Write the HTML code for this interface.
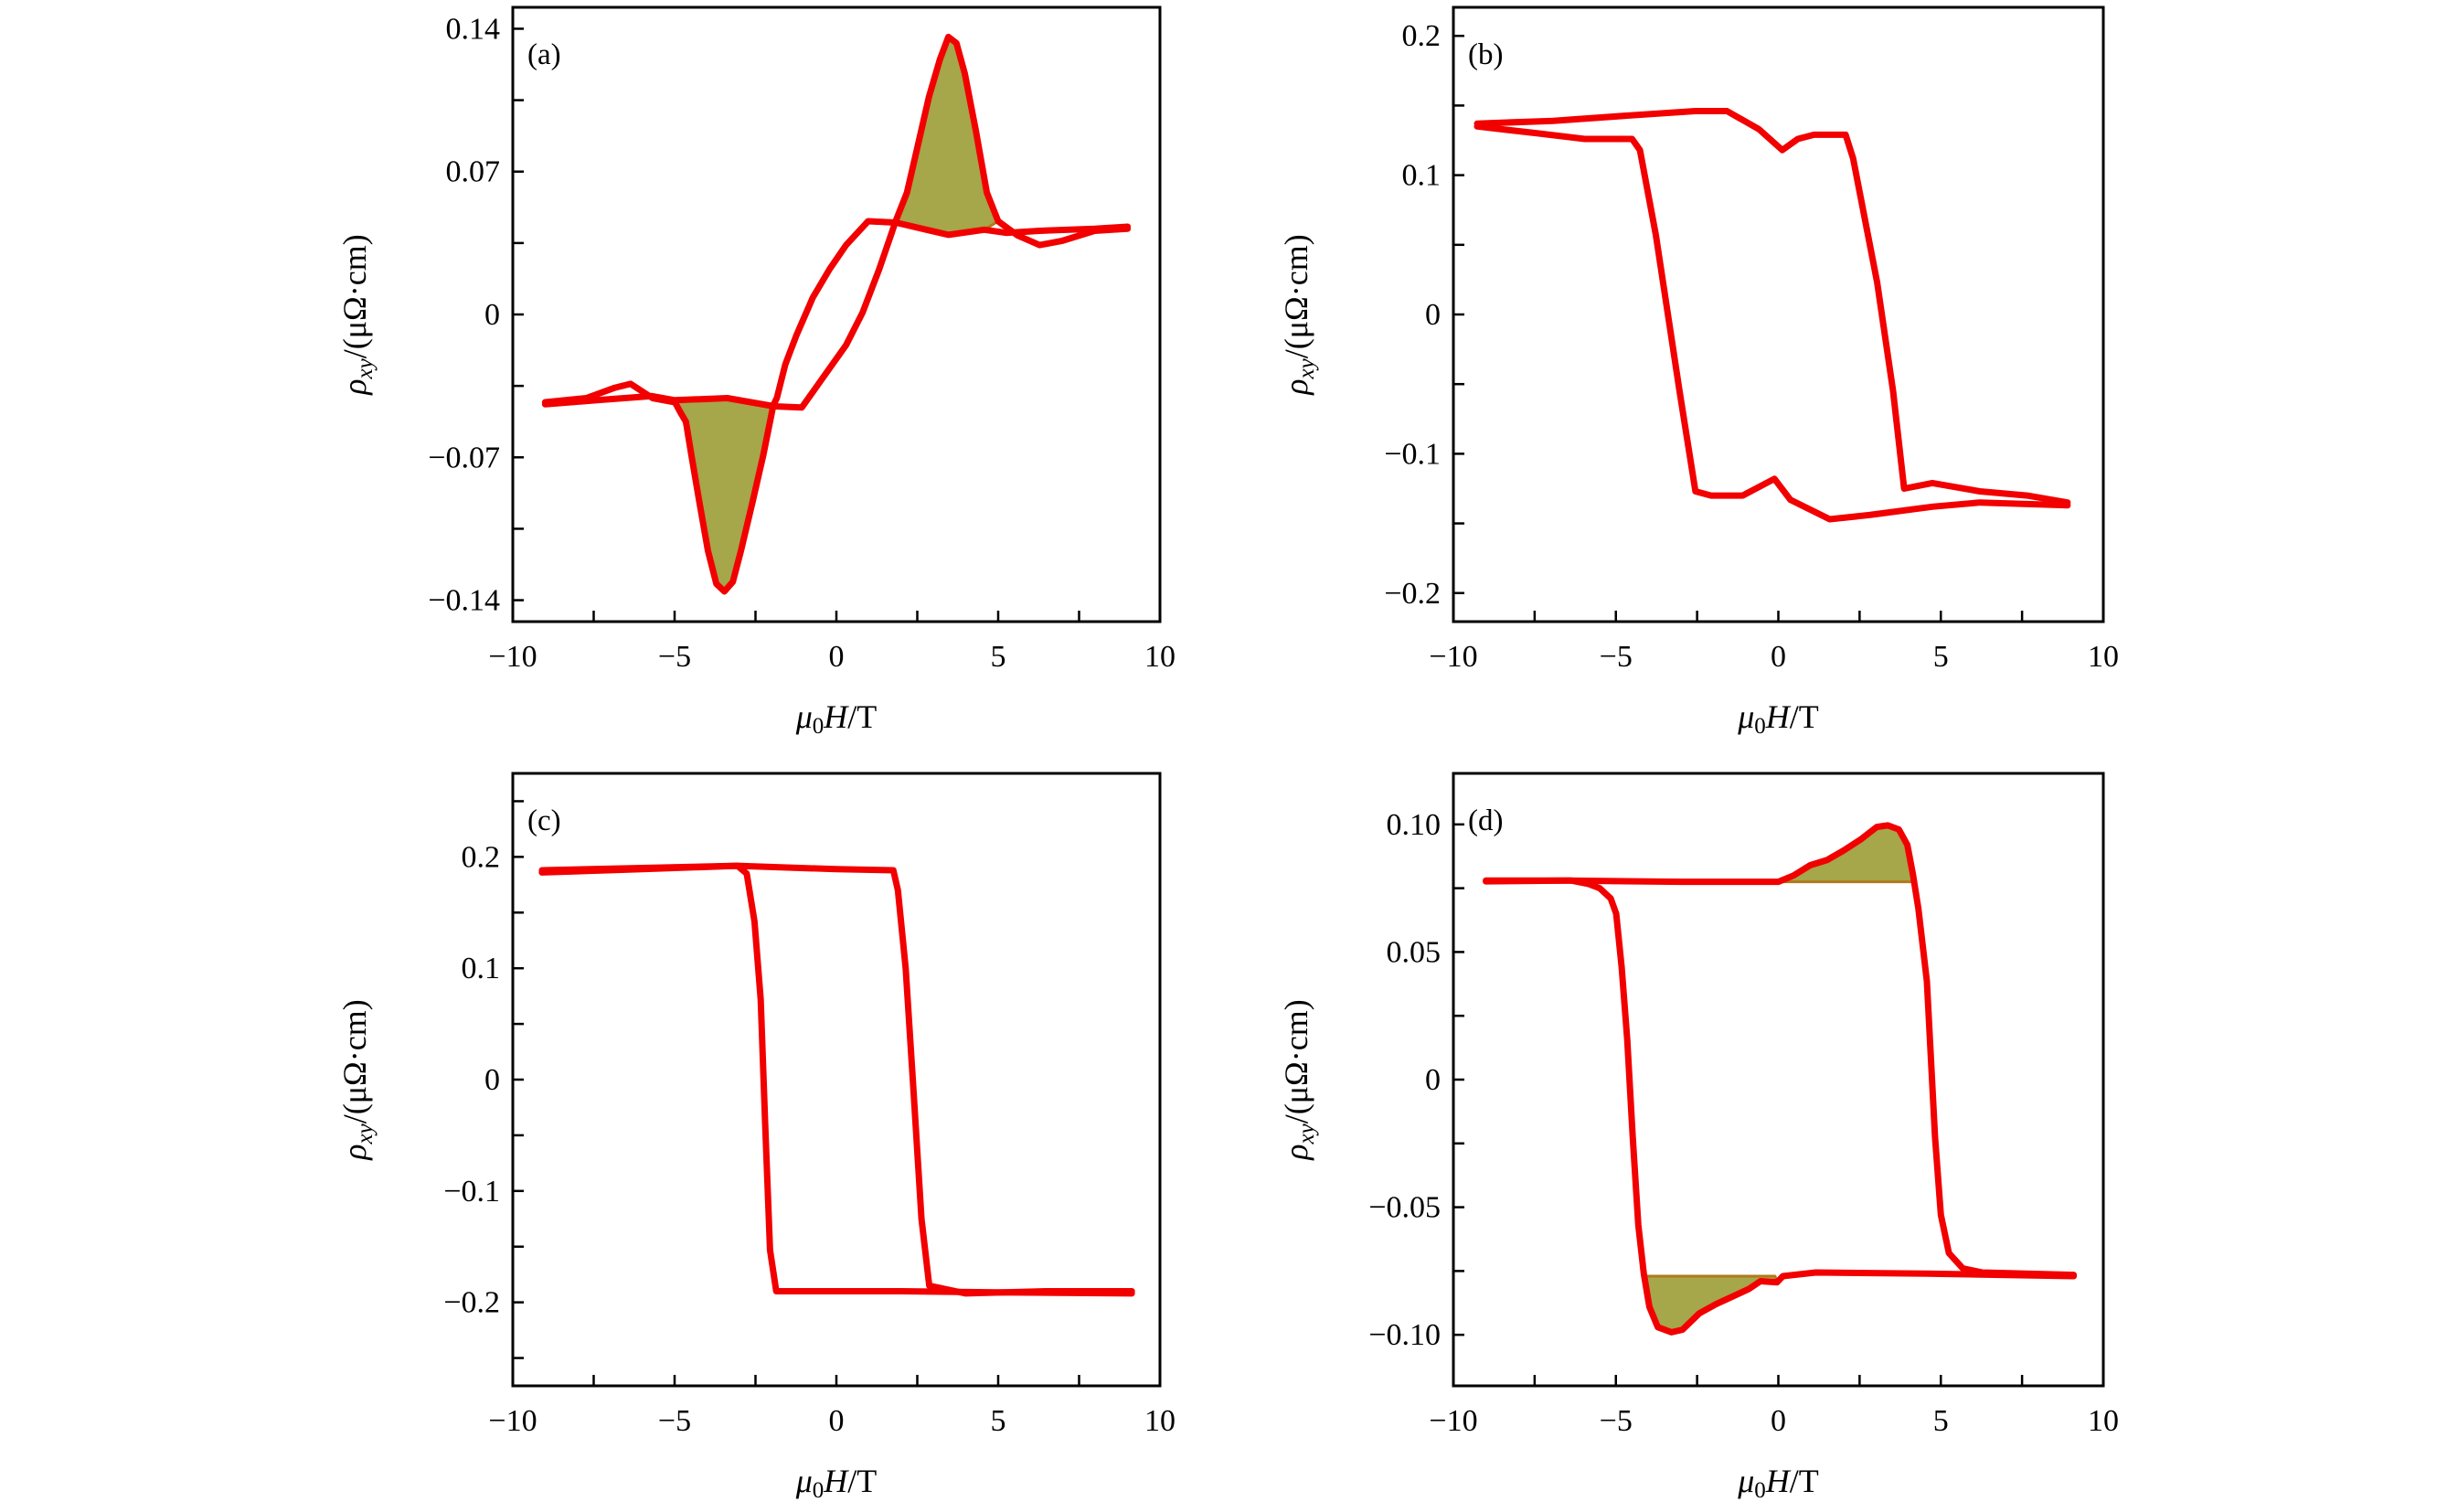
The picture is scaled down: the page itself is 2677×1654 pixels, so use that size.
<!DOCTYPE html>
<html><head><meta charset="utf-8"><style>
html,body{margin:0;padding:0;background:#fff;}
svg{display:block;font-family:"Liberation Serif",serif;}
</style></head><body>
<svg id="chart" width="2677" height="1654" viewBox="0 0 2677 1654" xmlns="http://www.w3.org/2000/svg"></svg>
<script>
// ---- Panel (a) data ----
const aBranchDown = [[9.0,0.043],[7.98,0.042],[6.28,0.041],[5.25,0.040],[4.57,0.0415],[3.46,0.039],[1.84,0.045],[0.98,0.0457],[0.30,0.034],[-0.21,0.0222],[-0.73,0.0083],[-1.24,-0.0104],[-1.58,-0.0245],[-1.84,-0.0409],[-1.95,-0.0445],[-2.26,-0.069],[-2.60,-0.0924],[-2.95,-0.1158],[-3.20,-0.131],[-3.46,-0.1357],[-3.71,-0.132],[-3.97,-0.1158],[-4.23,-0.0924],[-4.48,-0.069],[-4.65,-0.0526],[-4.82,-0.048],[-4.99,-0.043],[-5.68,-0.041],[-6.36,-0.034],[-6.87,-0.036],[-7.73,-0.041],[-9.0,-0.043]];
const aBranchUp = [[-9.0,-0.044],[-7.4,-0.042],[-5.7,-0.040],[-5.0,-0.042],[-3.37,-0.041],[-1.92,-0.045],[-1.07,-0.0456],[-0.55,-0.034],[0.30,-0.015],[0.81,0.001],[1.32,0.022],[1.84,0.046],[2.18,0.0597],[2.52,0.083],[2.86,0.1065],[3.20,0.125],[3.46,0.136],[3.71,0.133],[3.97,0.118],[4.31,0.090],[4.65,0.0597],[5.0,0.0457],[5.6,0.0387],[6.28,0.034],[6.96,0.036],[7.98,0.041],[9.0,0.042]];
const aFillPos = [[1.84,0.046],[2.18,0.0597],[2.52,0.083],[2.86,0.1065],[3.20,0.125],[3.46,0.136],[3.71,0.133],[3.97,0.118],[4.31,0.090],[4.65,0.0597],[5.0,0.0457],[4.57,0.0415],[3.46,0.039]];
const aFillNeg = [[-1.95,-0.0445],[-2.26,-0.069],[-2.60,-0.0924],[-2.95,-0.1158],[-3.20,-0.131],[-3.46,-0.1357],[-3.71,-0.132],[-3.97,-0.1158],[-4.23,-0.0924],[-4.48,-0.069],[-4.65,-0.0526],[-4.82,-0.048],[-4.99,-0.043],[-3.37,-0.041]];
const aYTicks = [0.14,0.07,0,-0.07,-0.14];
const aYLabels = ["0.14","0.07","0","\u22120.07","\u22120.14"];
const aYMinor = [0.105,0.035,-0.035,-0.105];

// ---- Panel (b) data ----
const bBranchDown = [[-9.27,0.137],[-6.93,0.139],[-4.5,0.143],[-2.55,0.146],[-1.58,0.146],[-0.6,0.133],[0.12,0.118],[0.6,0.126],[1.1,0.129],[2.07,0.129],[2.3,0.112],[3.04,0.023],[3.53,-0.055],[3.87,-0.125],[4.74,-0.121],[6.2,-0.127],[7.66,-0.13],[8.9,-0.135]];
const bBranchUp = [[8.9,-0.137],[6.2,-0.135],[4.74,-0.138],[2.8,-0.144],[1.58,-0.147],[0.37,-0.133],[-0.12,-0.118],[-1.1,-0.13],[-2.07,-0.13],[-2.55,-0.127],[-3.04,-0.055],[-3.77,0.057],[-4.26,0.118],[-4.5,0.126],[-5.96,0.126],[-7.4,0.130],[-9.27,0.135]];
const bYTicks = [0.2,0.1,0,-0.1,-0.2];
const bYLabels = ["0.2","0.1","0","\u22120.1","\u22120.2"];
const bYMinor = [0.15,0.05,-0.05,-0.15];

// ---- Panel (c) data ----
const cBranchDown = [[-9.1,0.188],[-6,0.190],[-3.06,0.192],[0,0.189],[1.76,0.188],[1.9,0.17],[2.14,0.1],[2.39,-0.013],[2.63,-0.125],[2.87,-0.185],[4,-0.192],[6.5,-0.190],[9.13,-0.19]];
const cBranchUp = [[9.13,-0.192],[5,-0.191],[2,-0.19],[-1.86,-0.19],[-2.05,-0.153],[-2.2,-0.04],[-2.34,0.072],[-2.53,0.142],[-2.77,0.185],[-3.06,0.192],[-6,0.189],[-9.1,0.186]];
const cYTicks = [0.2,0.1,0,-0.1,-0.2];
const cYLabels = ["0.2","0.1","0","\u22120.1","\u22120.2"];
const cYMinor = [0.25,0.15,0.05,-0.05,-0.15,-0.25];

// ---- Panel (d) data ----
const dBranchDown = [[-9.0,0.0777],[-6.5,0.078],[-3,0.0775],[0,0.0775],[0.47,0.080],[0.98,0.084],[1.49,0.086],[2.0,0.0897],[2.52,0.094],[3.03,0.099],[3.37,0.0996],[3.71,0.098],[3.97,0.092],[4.14,0.0805],[4.31,0.067],[4.57,0.0385],[4.82,-0.0225],[5.0,-0.053],[5.25,-0.068],[5.68,-0.074],[6.28,-0.0756],[9.09,-0.0765]];
const dBranchUp = [[9.09,-0.077],[4.57,-0.076],[1.15,-0.0756],[0.14,-0.077],[-0.04,-0.0794],[-0.55,-0.079],[-0.9,-0.082],[-1.41,-0.085],[-1.92,-0.088],[-2.43,-0.0916],[-2.95,-0.098],[-3.29,-0.099],[-3.71,-0.097],[-3.97,-0.089],[-4.14,-0.076],[-4.31,-0.057],[-4.48,-0.0225],[-4.65,0.0156],[-4.82,0.044],[-4.99,0.065],[-5.16,0.071],[-5.5,0.075],[-5.85,0.0767],[-6.36,0.078],[-9.0,0.078]];
const dFillPos = [[0.2,0.0775],[0.47,0.080],[0.98,0.084],[1.49,0.086],[2.0,0.0897],[2.52,0.094],[3.03,0.099],[3.37,0.0996],[3.71,0.098],[3.97,0.092],[4.14,0.0805],[4.16,0.0775]];
const dFillNeg = [[-0.1,-0.077],[-0.04,-0.0794],[-0.55,-0.079],[-0.9,-0.082],[-1.41,-0.085],[-1.92,-0.088],[-2.43,-0.0916],[-2.95,-0.098],[-3.29,-0.099],[-3.71,-0.097],[-3.97,-0.089],[-4.14,-0.077]];
const dYTicks = [0.10,0.05,0,-0.05,-0.10];
const dYLabels = ["0.10","0.05","0","\u22120.05","\u22120.10"];
const dYMinor = [0.075,0.025,-0.025,-0.075];

// shared x axis
const xTicks = [-10,-5,0,5,10];
const xLabels = ["\u221210","\u22125","0","5","10"];
const xMinor = [-7.5,-2.5,2.5,7.5];

const NS = "http://www.w3.org/2000/svg";
const svg = document.getElementById('chart');
function el(tag, attrs, parent){ const e=document.createElementNS(NS,tag); for(const k in attrs) e.setAttribute(k,attrs[k]); (parent||svg).appendChild(e); return e; }

function panel(cfg){
  const g = el('g',{});
  
  
  const L=cfg.L,R=cfg.R,T=cfg.T,B=cfg.B;
  const sx = v => L + (v - (-10)) / 20 * (R - L);
  const sy = v => B - (v - cfg.ymin) / (cfg.ymax - cfg.ymin) * (B - T);
  const pts = arr => arr.map(p => sx(p[0]).toFixed(1)+','+sy(p[1]).toFixed(1)).join(' ');
  cfg.fills.forEach((f,i)=>{
    const poly = el('polygon',{points:pts(f),fill:'#a6a64a',stroke:'#b07a1a','stroke-width':3,'stroke-linejoin':'round'},g);
    
    
  });
  cfg.curves.forEach((c,i)=>{
    const pl = el('polyline',{points:pts(c),fill:'none',stroke:'#f20000','stroke-width':7,'stroke-linejoin':'round','stroke-linecap':'round'},g);
    
    
  });
  const fr = el('rect',{x:L,y:T,width:R-L,height:B-T,fill:'none',stroke:'#000','stroke-width':3},g);
  
  
  xTicks.forEach((v,i)=>{
    el('line',{x1:sx(v),x2:sx(v),y1:B,y2:B-12,stroke:'#000','stroke-width':2.5},g);
    const t = el('text',{x:sx(v),y:B+49,'font-size':34,'text-anchor':'middle',fill:'#000'},g);
    t.textContent = xLabels[i];
    
    
  });
  xMinor.forEach(v=>{ el('line',{x1:sx(v),x2:sx(v),y1:B,y2:B-12,stroke:'#000','stroke-width':2.5},g); });
  cfg.yTicks.forEach((v,i)=>{
    el('line',{x1:L,x2:L+12,y1:sy(v),y2:sy(v),stroke:'#000','stroke-width':2.5},g);
    const t = el('text',{x:L-14,y:sy(v)+11,'font-size':34,'text-anchor':'end',fill:'#000'},g);
    t.textContent = cfg.yLabels[i];
    
    
  });
  cfg.yMinor.forEach(v=>{ el('line',{x1:L,x2:L+12,y1:sy(v),y2:sy(v),stroke:'#000','stroke-width':2.5},g); });
  const pl = el('text',{x:L+16,y:T+62,'font-size':33,fill:'#000'},g);
  pl.textContent = '(' + cfg.id + ')';
  
  
  const xt = el('text',{x:(L+R)/2,y:B+116,'font-size':36,'text-anchor':'middle',fill:'#000'},g);
  xt.innerHTML = '<tspan font-style="italic">\u03bc</tspan><tspan font-size="25" dy="6">0</tspan><tspan dy="-6" font-style="italic">H</tspan>/T';
  
  
  const cy=(T+B)/2, cx=cfg.yTitleX;
  const yt = el('text',{x:cx,y:cy,'font-size':36,'text-anchor':'middle',fill:'#000',transform:'rotate(-90 '+cx+' '+cy+')'},g);
  yt.innerHTML = '<tspan font-style="italic">\u03c1</tspan><tspan font-size="25" dy="7" font-style="italic">xy</tspan><tspan dy="-7">/(\u03bc\u03a9\u00b7cm)</tspan>';
  
  
}

panel({id:'a',L:561,R:1269,T:8,B:680,ymin:-0.1505,ymax:0.1505,yTicks:aYTicks,yLabels:aYLabels,yMinor:aYMinor,curves:[aBranchDown,aBranchUp],fills:[aFillPos,aFillNeg],yTitleX:400});
panel({id:'b',L:1590,R:2301,T:8,B:680,ymin:-0.2205,ymax:0.2205,yTicks:bYTicks,yLabels:bYLabels,yMinor:bYMinor,curves:[bBranchDown,bBranchUp],fills:[],yTitleX:1430});
panel({id:'c',L:561,R:1269,T:846,B:1516,ymin:-0.275,ymax:0.275,yTicks:cYTicks,yLabels:cYLabels,yMinor:cYMinor,curves:[cBranchDown,cBranchUp],fills:[],yTitleX:400});
panel({id:'d',L:1590,R:2301,T:846,B:1516,ymin:-0.12,ymax:0.12,yTicks:dYTicks,yLabels:dYLabels,yMinor:dYMinor,curves:[dBranchDown,dBranchUp],fills:[dFillPos,dFillNeg],yTitleX:1430});
</script>
</body></html>
